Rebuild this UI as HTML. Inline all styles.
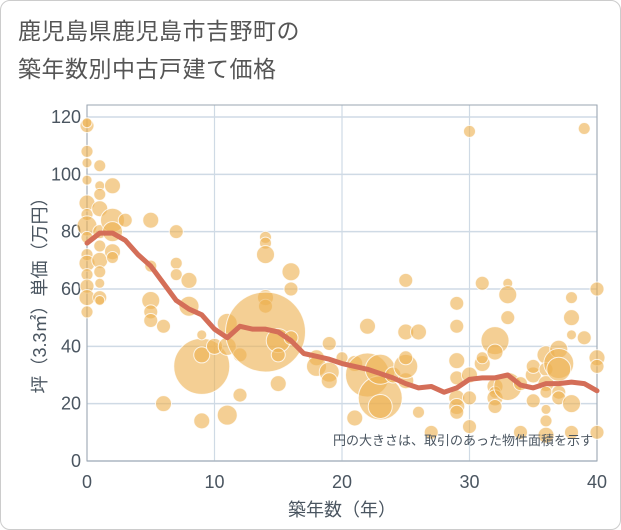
<!DOCTYPE html>
<html><head><meta charset="utf-8"><style>
html,body{margin:0;padding:0;background:#fff;}
#wrap{position:relative;width:619px;height:528px;border:1px solid #ccc;border-radius:10px;overflow:hidden;font-family:"Liberation Sans","Noto Sans CJK JP",sans-serif;}
#title{position:absolute;left:17px;top:11px;font-size:23px;line-height:38px;color:#555;letter-spacing:0.5px;}
svg{position:absolute;left:0;top:0;}
</style></head><body>
<div id="wrap">
<div id="title">鹿児島県鹿児島市吉野町の<br>築年数別中古戸建て価格</div>
<svg id="chart" width="621" height="530"></svg>
</div>
<script>
const trendAges=[0,1,2,3,4,5,6,7,8,9,10,11,12,13,14,15,16,17,18,19,20,21,22,23,24,25,26,27,28,29,30,31,32,33,34,35,36,37,38,39,40];
const trendPrices=[76,79.5,79.5,77,72,68,62,56,53,51,46,43,47,46,46,45,42,37.5,36.5,35.5,34,33,32,30.5,29,27,25.5,26,24,25.5,28.5,29,29,30,26.5,25.5,27,27,27.5,27,24.5];
const bubbleAges=[0,0,0,0,0,0,0,0,0,0,0,0,0,0,0,1,1,1,1,1,1,1,1,1,1,1,2,2,2,2,2,3,5,5,5,5,5,6,6,7,7,7,8,8,9,9,9,9,10,11,11,11,12,12,14,14,14,14,14,14,15,15,15,16,16,16,18,18,19,19,19,20,21,21,22,22,23,23,23,24,25,25,25,25,25,26,26,27,29,29,29,29,29,29,29,30,30,30,30,31,31,31,32,32,32,32,32,32,33,33,33,33,34,34,35,35,35,36,36,36,36,36,36,36,37,37,37,37,37,38,38,38,38,38,39,39,40,40,40,40];
const bubblePrices=[117,118,108,104,98,90,86,82,78,72,69,65,61,57,52,103,96,93,88,80,75,70,66,62,57,56,96,84,80,73,71,84,84,68,56,52,49,47,20,80,69,65,63,54,33,37,44,14,40,48,40,16,23,37,78,76,72,57,54,45,42,37,27,66,60,43,36,33,31,28,41,36,34,15,47,30,22,32,19,30,63,45,28,33,36,17,45,10,55,47,35,29,22,19,17,115,30,22,12,62,34,36,42,38,26,24,22,19,62,58,50,26,27,10,21,30,33,37,32,27,24,18,14,9,39,34,32,24,22,57,50,44,20,10,116,43,60,36,33,10];
const bubbleRadii=[7,5,6,5,5,8,6,10,6,6,8,6,7,8,6,6,5,6,8,7,6,8,6,5,7,5,8,12,10,8,6,7,8,6,9,7,7,7,8,7,6,6,8,10,28,8,5,8,8,10,9,10,7,7,6,6,9,8,7,40,12,7,8,9,7,7,8,10,10,8,7,6,8,8,8,22,22,15,12,8,7,8,8,12,7,6,8,7,7,7,8,7,8,8,7,6,8,7,7,7,8,6,14,8,8,6,8,7,5,9,7,14,7,7,7,8,7,9,7,8,6,5,6,8,9,15,12,7,7,6,8,5,9,7,6,7,7,8,7,7];
const xTicks=[0,10,20,30,40];
const yTicks=[0,20,40,60,80,100,120];
const NS="http://www.w3.org/2000/svg";
const svg=document.getElementById('chart');
const X0=86,X1=596,Y0=460,Y1=116;
const xs=v=>X0+(v/40)*(X1-X0);
const ys=v=>Y0-(v/120)*(Y0-Y1);
const TC='#4a5560';
function mk(t,a){const e=document.createElementNS(NS,t);for(const k in a)e.setAttribute(k,a[k]);svg.appendChild(e);return e;}
yTicks.forEach(v=>{
 const g=mk('line',{x1:X0,x2:X1,y1:ys(v),y2:ys(v),stroke:'#cfdae5','stroke-width':1.5});
 
 
 const t=mk('text',{x:80,y:ys(v)+6,'text-anchor':'end','font-size':18,fill:TC});
 t.textContent=v;
 
 
});
xTicks.forEach(v=>{
 const g=mk('line',{x1:xs(v),x2:xs(v),y1:Y1-12,y2:Y0,stroke:'#cfdae5','stroke-width':1.2});
 
 
 const t=mk('text',{x:xs(v),y:487,'text-anchor':'middle','font-size':18,fill:TC});
 t.textContent=v;
 
 
});
const box=mk('rect',{x:X0,y:Y1-12,width:X1-X0,height:Y0-Y1+12,fill:'none',stroke:'#9aa5b0','stroke-width':1});


bubbleAges.forEach((a,i)=>{
 const c=mk('circle',{cx:xs(a),cy:ys(bubblePrices[i]),r:bubbleRadii[i],fill:'rgba(238,178,82,0.62)',stroke:'rgba(255,255,255,0.8)','stroke-width':1});
 
 
});
const pts=trendAges.map((a,i)=>xs(a)+','+ys(trendPrices[i])).join(' ');
const pl=mk('polyline',{points:pts,fill:'none',stroke:'#d46e58','stroke-width':5,'stroke-linejoin':'round','stroke-linecap':'round'});


const note=mk('text',{x:592,y:444,'text-anchor':'end','font-size':13,fill:TC});
note.textContent='円の大きさは、取引のあった物件面積を示す';


const xt=mk('text',{x:341,y:515,'text-anchor':'middle','font-size':18,fill:TC});
xt.textContent='築年数（年）';


const yt=mk('text',{x:0,y:0,'text-anchor':'middle','font-size':18,fill:TC,transform:'translate(45,290) rotate(-90)'});
yt.textContent='坪（3.3㎡）単価（万円）';


</script>
</body></html>
